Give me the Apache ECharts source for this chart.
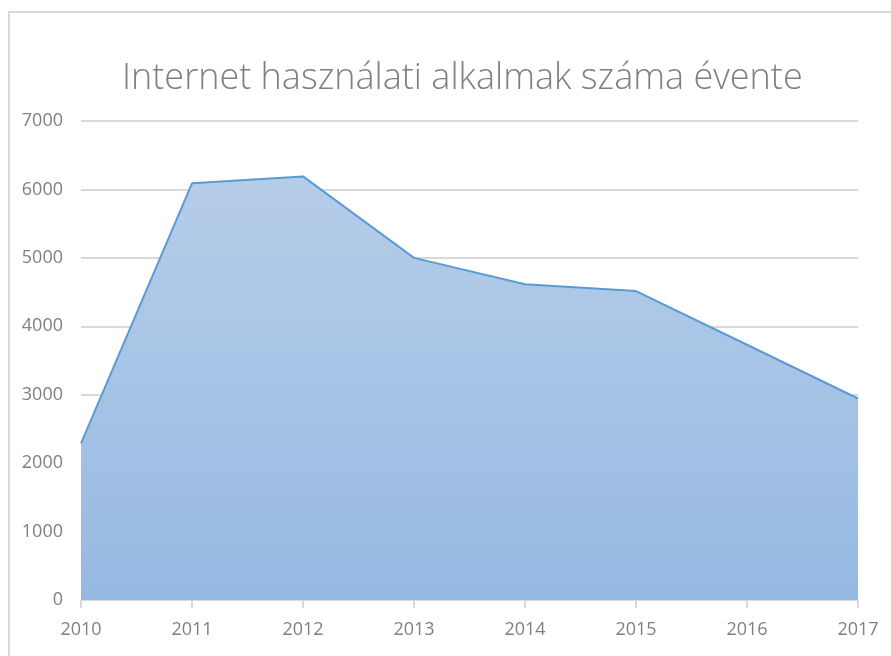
<!DOCTYPE html>
<html>
<head>
<meta charset="utf-8">
<script src="https://cdn.jsdelivr.net/npm/echarts@6/dist/echarts.min.js"></script>
<style>
  html, body { margin: 0; padding: 0; background: #fff; }
  #myChart { width: 891px; height: 656px; }
</style>
</head>
<body>
<div id="myChart"></div>
<script>
  // évek és értékek
  var years = ['2010', '2011', '2012', '2013', '2014', '2015', '2016', '2017']
  var values = [2290, 6090, 6190, 5000, 4615, 4515, 3730, 2945]
  var titleText = 'Internet használati alkalmak száma évente'

  var myChart = echarts.init(document.getElementById('myChart'))
  myChart.setOption({
    animation: false,
    graphic: [{
      type: 'rect',
      shape: { x: 9, y: 12, width: 900, height: 700 },
      style: { fill: 'none', stroke: '#d9d9d9', lineWidth: 2 },
      silent: true
    }],
    title: {
      text: titleText,
      left: 117,
      top: 56,
      textStyle: {
        fontFamily: 'Open Sans',
        fontWeight: 300,
        fontSize: 36,
        color: '#808080'
      }
    },
    grid: {
      left: 81,
      right: 33,
      top: 121,
      bottom: 56
    },
    xAxis: {
      type: 'category',
      data: years,
      boundaryGap: false,
      axisLine: { lineStyle: { color: '#d9d9d9', width: 2 } },
      axisTick: { show: true, length: 8, lineStyle: { color: '#d9d9d9', width: 2 } },
      axisLabel: { color: '#808080', fontSize: 18, fontFamily: 'Open Sans', margin: 21 },
      splitLine: { show: false }
    },
    yAxis: {
      type: 'value',
      min: 0,
      max: 7000,
      interval: 1000,
      axisLine: { show: false },
      axisTick: { show: false },
      axisLabel: {
        color: '#808080', fontSize: 18, fontFamily: 'Open Sans', margin: 18,
        formatter: function (v) { return String(v) }
      },
      splitLine: { lineStyle: { color: '#d9d9d9', width: 2 } }
    },
    series: [{
      type: 'line',
      data: values,
      symbol: 'none',
      lineStyle: { color: '#5b9bd5', width: 2 },
      areaStyle: {
        opacity: 1,
        color: new echarts.graphic.LinearGradient(0, 0, 0, 1, [
          { offset: 0, color: '#b6cde9' },
          { offset: 1, color: '#96b9e2' }
        ])
      }
    }]
  })
</script>
</body>
</html>
